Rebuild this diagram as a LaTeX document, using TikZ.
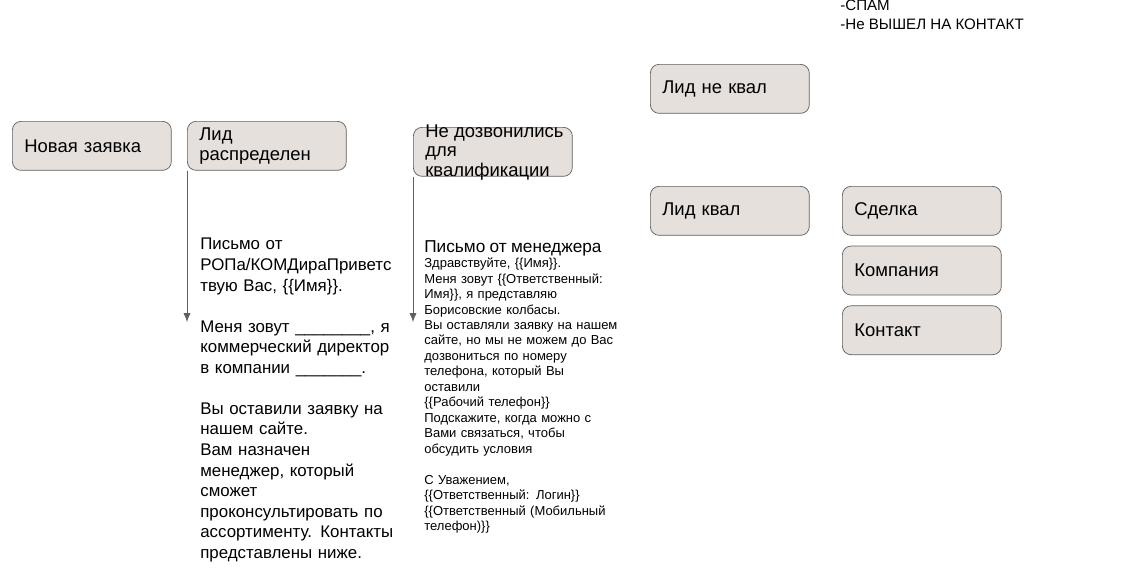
\documentclass[tikz,border=0pt]{standalone}
\usepackage{fontspec}
\setmainfont{Liberation Sans}
\usetikzlibrary{positioning, arrows.meta}
\definecolor{boxfill}{HTML}{E6E0DC}
\definecolor{boxline}{HTML}{5F5F5F}

\begin{document}
\begin{tikzpicture}[
    x=0.02cm, y=-0.02cm,
    % Styles
    stage/.style={draw=boxline, fill=boxfill, rounded corners=5pt, minimum width=3.18cm, minimum height=0.98cm, text width=2.7cm, align=left, font=\fontsize{10.5}{11.5}\selectfont, inner sep=0pt, anchor=north west},
    letter/.style={anchor=north west, inner sep=0pt, align=left},
    arrow/.style={-{Latex[length=5pt,width=4pt]}, boxline, thin},
]
\useasboundingbox (0,0) rectangle (1148,582);

% Pipeline stages
\node[stage] (new) at (12,121) {Новая заявка};
\node[stage] (assigned) at (187,121) {Лид\\распределен};
\node[stage] (nocall) at (413,127) {};
\node[letter, font=\fontsize{10.5}{11.3}\selectfont] (nocalltext) at (425,124) {Не дозвонились\\для\\квалификации};
\node[stage] (unqual) at (650,64) {Лид не квал};
\node[stage] (qual) at (650,186) {Лид квал};
\node[stage] (deal) at (842,186) {Сделка};
\node[stage, below=0.2cm of deal] (company) {Компания};
\node[stage, below=0.2cm of company] (contact) {Контакт};

% Reasons
\node[letter, font=\fontsize{8.6}{10.3}\selectfont] (reasons) at (840,0) {-СПАМ\\-Не ВЫШЕЛ НА КОНТАКТ};

% Letters
\coordinate (a1) at (187,322);
\coordinate (a2) at (413,322);
\draw[arrow] (assigned.south west) -- (a1);
\draw[arrow] (nocall.south west) -- (a2);

\node[letter, font=\fontsize{9.6}{11.7}\selectfont, text width=4.5cm] (ropletter) at (200,238) {Письмо от\\РОПа/КОМДираПриветс\\твую Вас, \{\{Имя\}\}.\\[11.7pt]
Меня зовут \_\_\_\_\_\_\_\_, я\\коммерческий директор\\в компании \_\_\_\_\_\_\_.\\[11.7pt]
Вы оставили заявку на\\нашем сайте.\\Вам назначен\\менеджер, который\\сможет\\проконсультировать по\\ассортименту. Контакты\\представлены ниже.};

\node[letter, font=\fontsize{7.4}{8.8}\selectfont, text width=4.5cm] (mgrletter) at (424,240) {{\fontsize{9.8}{11.5}\selectfont Письмо от менеджера}\\
Здравствуйте, \{\{Имя\}\}.\\Меня зовут \{\{Ответственный:\\Имя\}\}, я представляю\\Борисовские колбасы.\\Вы оставляли заявку на нашем\\сайте, но мы не можем до Вас\\дозвониться по номеру\\телефона, который Вы\\оставили\\\{\{Рабочий телефон\}\}\\Подскажите, когда можно с\\Вами связаться, чтобы\\обсудить условия\\[8.8pt]
С Уважением,\\\{\{Ответственный: Логин\}\}\\\{\{Ответственный (Мобильный\\телефон)\}\}};

\end{tikzpicture}
\end{document}
